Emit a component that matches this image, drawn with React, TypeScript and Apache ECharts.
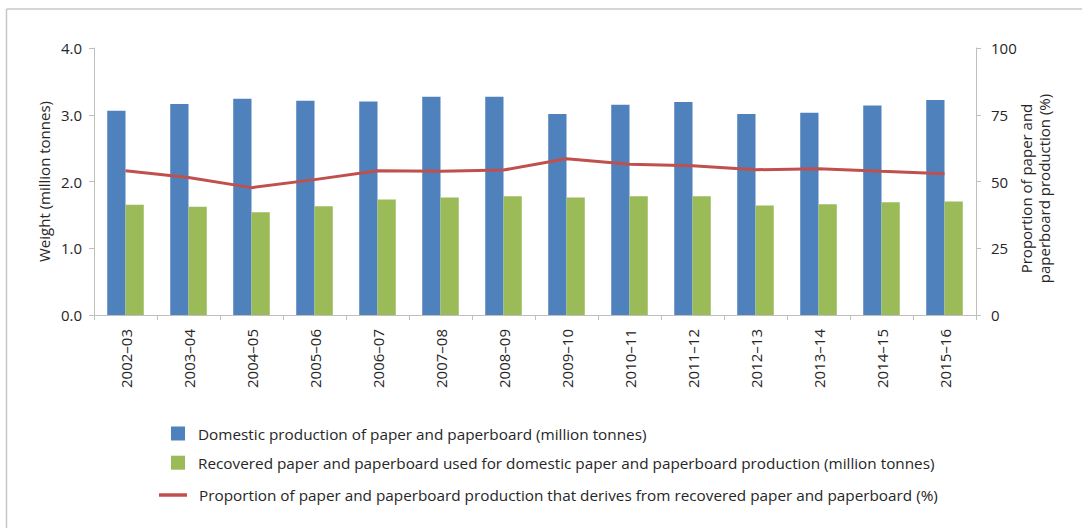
import React, { useEffect, useRef } from "react";
import * as echarts from "echarts";

const categories = [
  "2002–03", "2003–04", "2004–05", "2005–06", "2006–07", "2007–08", "2008–09",
  "2009–10", "2010–11", "2011–12", "2012–13", "2013–14", "2014–15", "2015–16",
];
const domesticProduction = [3.06, 3.16, 3.24, 3.21, 3.2, 3.27, 3.27, 3.01, 3.15, 3.19, 3.01, 3.03, 3.14, 3.22];
const recoveredUsed = [1.65, 1.62, 1.54, 1.63, 1.73, 1.76, 1.78, 1.76, 1.78, 1.78, 1.64, 1.66, 1.69, 1.7];
const proportionRecovered = [54.0, 51.5, 47.7, 50.7, 54.0, 53.8, 54.3, 58.5, 56.5, 55.9, 54.4, 54.8, 53.8, 52.9];

const nameDomestic = "Domestic production of paper and paperboard (million tonnes)";
const nameRecovered = "Recovered paper and paperboard used for domestic paper and paperboard production (million tonnes)";
const nameProportion = "Proportion of paper and paperboard production that derives from recovered paper and paperboard (%)";

const FONT = "'Open Sans', sans-serif";
const TEXT = "#262626";
const AXIS = "#bfbfbf";

export default function App() {
  const ref = useRef<HTMLDivElement>(null);
  useEffect(() => {
    if (!ref.current) return;
    const chart = echarts.init(ref.current, undefined, { renderer: "svg" });
    const legendText = { color: TEXT, fontSize: 15.3, fontFamily: FONT, lineHeight: 20 };
    chart.setOption({
      animation: false,
      textStyle: { fontFamily: FONT },
      grid: { left: 94, right: 106, top: 48, bottom: 213, containLabel: false },
      graphic: [
        { type: "line", shape: { x1: 6.5, y1: 9, x2: 1082, y2: 9 }, style: { stroke: "#c8c8c8", lineWidth: 1.5 } },
        { type: "line", shape: { x1: 6.5, y1: 9, x2: 6.5, y2: 528 }, style: { stroke: "#c8c8c8", lineWidth: 1.5 } },
      ],
      legend: [
        {
          data: [nameDomestic], left: 171, top: 423.5, padding: 0, orient: "vertical",
          itemWidth: 14, itemHeight: 14, icon: "rect", selectedMode: false,
          textStyle: { ...legendText, padding: [0, 0, 0, 8] },
        },
        {
          data: [nameRecovered], left: 171, top: 452.7, padding: 0, orient: "vertical",
          itemWidth: 14, itemHeight: 14, icon: "rect", selectedMode: false,
          textStyle: { ...legendText, padding: [0, 0, 0, 8] },
        },
        {
          data: [nameProportion], left: 159, top: 485, padding: 0, orient: "vertical",
          itemWidth: 28, itemHeight: 3.5, icon: "rect", selectedMode: false,
          textStyle: { ...legendText, padding: [0, 0, 0, 7] },
        },
      ],
      xAxis: {
        type: "category",
        data: categories,
        axisLine: { show: true, lineStyle: { color: AXIS, width: 1 } },
        axisTick: { show: true, length: 5, lineStyle: { color: AXIS } },
        axisLabel: { rotate: 90, interval: 0, margin: 14, color: TEXT, fontSize: 15, fontFamily: FONT },
      },
      yAxis: [
        {
          type: "value", min: 0, max: 4, interval: 1,
          name: "Weight (million tonnes)", nameLocation: "middle", nameGap: 43, nameMoveOverlap: false,
          nameTextStyle: { color: TEXT, fontSize: 15, fontFamily: FONT },
          axisLine: { show: true, lineStyle: { color: AXIS } },
          axisTick: { show: true, length: 5, lineStyle: { color: AXIS } },
          axisLabel: { color: TEXT, fontSize: 15, margin: 12, fontFamily: FONT, formatter: (v: number) => v.toFixed(1) },
          splitLine: { show: false },
        },
        {
          type: "value", min: 0, max: 100, interval: 25, position: "right",
          name: "Proportion of paper and\npaperboard production (%)", nameLocation: "middle", nameGap: 41,
          nameRotate: 90, nameMoveOverlap: false,
          nameTextStyle: { color: TEXT, fontSize: 15, fontFamily: FONT, lineHeight: 18, padding: [0, 14, 0, 0] },
          axisLine: { show: true, lineStyle: { color: AXIS } },
          axisTick: { show: true, length: 5, lineStyle: { color: AXIS } },
          axisLabel: { color: TEXT, fontSize: 15, margin: 15, fontFamily: FONT },
          splitLine: { show: false },
        },
      ],
      series: [
        {
          name: nameDomestic, type: "bar", data: domesticProduction, yAxisIndex: 0,
          barGap: "0%", barCategoryGap: "42%", itemStyle: { color: "#4F81BD" },
        },
        {
          name: nameRecovered, type: "bar", data: recoveredUsed, yAxisIndex: 0,
          barGap: "0%", barCategoryGap: "42%", itemStyle: { color: "#9BBB59" },
        },
        {
          name: nameProportion, type: "line", data: proportionRecovered, yAxisIndex: 1,
          symbol: "none", lineStyle: { color: "#C0504D", width: 3 }, itemStyle: { color: "#C0504D" },
        },
      ],
    });
    return () => chart.dispose();
  }, []);
  return <div ref={ref} style={{ position: "absolute", left: 0, top: 0, width: 1082, height: 528 }} />;
}
